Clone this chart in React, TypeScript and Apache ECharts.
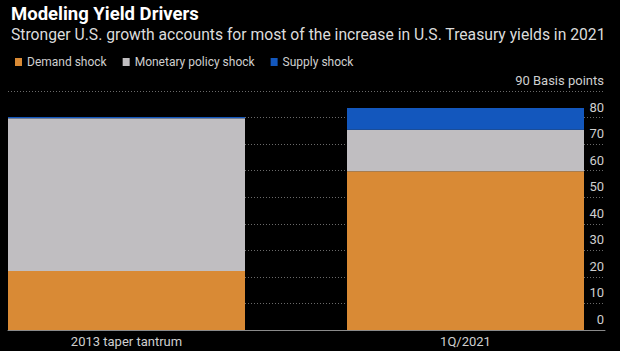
import React, { useEffect, useRef } from "react";
import * as echarts from "echarts";

const categories = ["2013 taper tantrum", "1Q/2021"];
const demandShock = [22.2, 59.8];
const monetaryShock = [57.5, 15.6];
const supplyShock = [0.5, 8.2];
const yTicks = [0, 10, 20, 30, 40, 50, 60, 70, 80, 90];
const unitLabel = "Basis points";

const FONT = "Roboto";

export default function App() {
  const ref = useRef<HTMLDivElement>(null);
  useEffect(() => {
    if (!ref.current) return;
    const chart = echarts.init(ref.current, null, { renderer: "svg" });
    const barW = 237;
    const yMin = yTicks[0];
    const yMax = yTicks[yTicks.length - 1];
    const seriesBase = {
      type: "bar",
      stack: "total",
      barWidth: barW,
      xAxisIndex: 0,
      yAxisIndex: 0,
    };
    chart.setOption({
      animation: false,
      backgroundColor: "#000000",
      textStyle: { fontFamily: FONT },
      title: {
        text: "Modeling Yield Drivers",
        subtext:
          "Stronger U.S. growth accounts for most of the increase in U.S. Treasury yields in 2021",
        left: 6,
        top: -1,
        itemGap: 3,
        textStyle: { color: "#ffffff", fontSize: 18.5, fontWeight: "bold", fontFamily: FONT },
        subtextStyle: { color: "#dcdcdc", fontSize: 15.7, fontFamily: FONT },
      },
      legend: {
        left: 10,
        top: 51,
        icon: "rect",
        itemWidth: 7,
        itemHeight: 8,
        itemGap: 16,
        textStyle: { color: "#cfcfcf", fontSize: 12, fontFamily: FONT },
        data: ["Demand shock", "Monetary policy shock", "Supply shock"],
      },
      grid: [
        { left: -43, right: -15, top: 91, bottom: 21, containLabel: false, outerBoundsMode: "none" },
        { left: 8, right: 15, top: 91, bottom: 21, containLabel: false, outerBoundsMode: "none" },
      ],
      xAxis: [
        {
          type: "category",
          gridIndex: 0,
          data: categories,
          axisLine: { show: false },
          axisTick: { show: false },
          splitLine: { show: false },
          axisLabel: { color: "#cfcfcf", fontSize: 13, margin: 5, fontFamily: FONT },
        },
        {
          type: "value",
          gridIndex: 1,
          min: 0,
          max: 1,
          axisLine: { show: true, onZero: false, lineStyle: { color: "#8a8a8a", width: 1 } },
          axisTick: { show: false },
          axisLabel: { show: false },
          splitLine: { show: false },
        },
      ],
      yAxis: [
        {
          type: "value",
          gridIndex: 0,
          min: yMin,
          max: yMax,
          interval: 10,
          show: false,
          splitLine: { show: false },
        },
        {
          type: "value",
          gridIndex: 1,
          position: "right",
          min: yMin,
          max: yMax,
          interval: 10,
          axisLine: { show: false },
          axisTick: { show: false },
          splitLine: { show: true, lineStyle: { color: "#6a6a6a", type: [1, 2], width: 1 } },
          axisLabel: {
            inside: true,
            margin: 1,
            verticalAlign: "bottom",
            padding: [0, 0, 4, 0],
            color: "#cfcfcf",
            fontSize: 13,
            fontFamily: FONT,
            formatter: (v: number) => (v === yMax ? `${v} ${unitLabel}` : `${v}`),
          },
        },
      ],
      series: [
        { ...seriesBase, name: "Demand shock", itemStyle: { color: "#d98a35" }, data: demandShock },
        { ...seriesBase, name: "Monetary policy shock", itemStyle: { color: "#c0bec1" }, data: monetaryShock },
        { ...seriesBase, name: "Supply shock", itemStyle: { color: "#1357bd" }, data: supplyShock },
      ],
    });
    return () => chart.dispose();
  }, []);
  return <div ref={ref} style={{ width: 620, height: 351, position: "fixed", left: 0, top: 0 }} />;
}
